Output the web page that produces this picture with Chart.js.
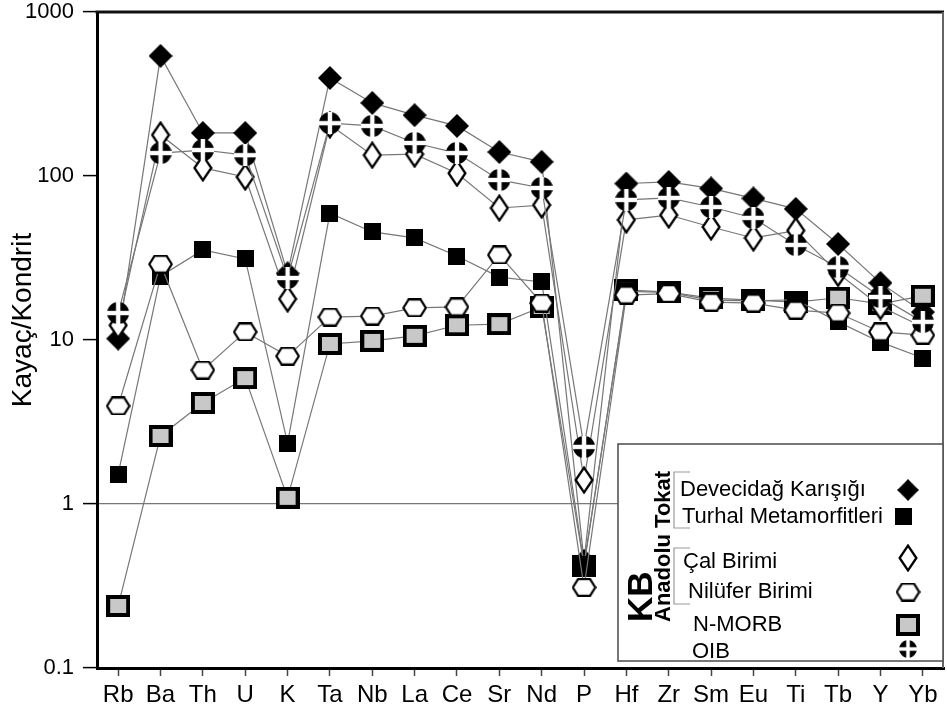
<!DOCTYPE html>
<html>
<head>
<meta charset="utf-8">
<title>Kayaç/Kondrit örümcek diyagramı</title>
<script src="https://cdn.jsdelivr.net/npm/chart.js@4.4.1/dist/chart.umd.min.js"></script>
<style>
  html, body { margin: 0; padding: 0; background: #fff; }
  canvas { display: block; }
</style>
</head>
<body>
<canvas id="spider" width="947" height="715"></canvas>
<script>
// Elements along the x axis
const elements = ['Rb','Ba','Th','U','K','Ta','Nb','La','Ce','Sr','Nd','P','Hf','Zr','Sm','Eu','Ti','Tb','Y','Yb'];

// Chondrite-normalised values per unit
const devecidag = [10.2, 540, 183, 183, 25.5, 396, 279, 235, 202, 140, 122, 0.45, 90, 92, 84, 73, 63, 38.5, 22.3, 14.8];
const turhal    = [1.52, 24.5, 35.4, 31.2, 2.35, 59.4, 45.6, 41.9, 32.5, 24.2, 22.6, 0.43, 19.8, 19.5, 17.5, 17.3, 17.6, 12.9, 9.7, 7.76];
const cal       = [12.3, 178, 112, 98.6, 17.8, 205, 134, 136, 104, 63.8, 66.5, 1.40, 54, 57.8, 48.9, 41.9, 46.5, 25.5, 16, 12];
const nilufer   = [3.96, 29, 6.56, 11.2, 7.98, 13.8, 14, 15.7, 15.9, 33, 16.8, 0.31, 18.8, 19.2, 17, 16.8, 15.2, 14.6, 11.2, 10.7];
const nmorb     = [0.239, 2.6, 4.13, 5.86, 1.09, 9.46, 9.87, 10.6, 12.3, 12.5, 15.9, 0.42, 20.2, 19.6, 18, 17.5, 17, 18.1, 16.6, 18.6];
const oib       = [14.6, 138, 144, 134, 23.9, 210, 202, 159, 138, 94.6, 84.5, 2.23, 71.5, 73.5, 64.7, 55.5, 38, 27.8, 18.3, 12.9];

const seriesNames = ['Devecidağ Karışığı', 'Turhal Metamorfitleri', 'Çal Birimi', 'Nilüfer Birimi', 'N-MORB', 'OIB'];
const yTickValues = [0.1, 1, 10, 100, 1000];
const yTickLabels = ['0.1', '1', '10', '100', '1000'];
const yTitle = 'Kayaç/Kondrit';
const groupTitleOuter = 'KB';
const groupTitleInner = 'Anadolu Tokat';

const FONT = '"Liberation Sans", Arial, Helvetica, sans-serif';

// ---- marker sprites ----
function sprite(w, h, paint) {
  const c = document.createElement('canvas');
  c.width = w; c.height = h;
  paint(c.getContext('2d'), w, h);
  return c;
}
const symDiamondSolid = sprite(24, 24, (g, w, h) => {
  g.fillStyle = '#000';
  g.beginPath();
  g.moveTo(w / 2, 0); g.lineTo(w, h / 2); g.lineTo(w / 2, h); g.lineTo(0, h / 2);
  g.closePath(); g.fill();
});
const symSquareSolid = sprite(17, 17, (g, w, h) => {
  g.fillStyle = '#000';
  g.fillRect(0, 0, w, h);
});
const symDiamondOpen = sprite(20, 28, (g, w, h) => {
  g.fillStyle = '#fff'; g.strokeStyle = '#000'; g.lineWidth = 2.3; g.lineJoin = 'miter';
  g.beginPath();
  g.moveTo(w / 2, 1.6); g.lineTo(w - 1.6, h / 2); g.lineTo(w / 2, h - 1.6); g.lineTo(1.6, h / 2);
  g.closePath(); g.fill(); g.stroke();
});
const symHexagon = sprite(25, 19, (g, w, h) => {
  g.fillStyle = '#fff'; g.strokeStyle = '#000'; g.lineWidth = 2.2;
  g.beginPath();
  g.moveTo(1.3, h / 2); g.lineTo(6.5, 1.2); g.lineTo(w - 6.5, 1.2);
  g.lineTo(w - 1.3, h / 2); g.lineTo(w - 6.5, h - 1.2); g.lineTo(6.5, h - 1.2);
  g.closePath(); g.fill(); g.stroke();
});
const symSquareGrey = sprite(24, 22, (g, w, h) => {
  g.fillStyle = '#000';
  g.fillRect(0, 0, w, h);
  g.fillStyle = '#c8c8c8';
  g.fillRect(4, 4, w - 8, h - 8);
});
const symCrossCircle = sprite(22, 22, (g, w, h) => {
  g.fillStyle = '#000';
  g.beginPath(); g.arc(w / 2, h / 2, w / 2, 0, Math.PI * 2); g.fill();
  g.fillStyle = '#fff';
  g.fillRect(0, h / 2 - 2.2, w, 4.4);
  g.fillRect(w / 2 - 2.2, 0, 4.4, h);
});
const symbols = [symDiamondSolid, symSquareSolid, symDiamondOpen, symHexagon, symSquareGrey, symCrossCircle];

// lower "order" is painted later, i.e. on top
const drawOrder = [5, 3, 2, 1, 4, 0];
const seriesValues = [devecidag, turhal, cal, nilufer, nmorb, oib];

const datasets = seriesNames.map((name, i) => ({
  label: name,
  data: seriesValues[i],
  pointStyle: symbols[i],
  pointRadius: 11,
  pointHoverRadius: 11,
  borderColor: '#777',
  backgroundColor: '#000',
  borderWidth: 1.2,
  fill: false,
  tension: 0,
  clip: false,
  order: drawOrder[i]
}));

// ---- frame, axis title and key ----
const decorations = {
  id: 'decorations',
  afterDraw(chart) {
    const g = chart.ctx;
    const a = chart.chartArea;
    g.save();

    // top and right edges of the plotting frame
    g.strokeStyle = '#111'; g.lineWidth = 3;
    g.beginPath(); g.moveTo(a.left - 1.5, a.top); g.lineTo(a.right, a.top); g.stroke();
    g.strokeStyle = '#666'; g.lineWidth = 2;
    g.beginPath(); g.moveTo(a.right - 1, a.top); g.lineTo(a.right - 1, a.bottom); g.stroke();

    // y axis title
    g.fillStyle = '#000';
    g.font = '28px ' + FONT;
    g.textAlign = 'center'; g.textBaseline = 'middle';
    g.translate(23, 320);
    g.rotate(-Math.PI / 2);
    g.fillText(yTitle, 0, 0);
    g.setTransform(1, 0, 0, 1, 0, 0);

    // key box
    const bx = 618, by = 444, bw = 325, bh = 217;
    g.fillStyle = '#fff';
    g.fillRect(bx, by, bw, bh);
    g.strokeStyle = '#555'; g.lineWidth = 1.6;
    g.strokeRect(bx, by, bw, bh);

    // rotated group titles
    g.fillStyle = '#000';
    g.textAlign = 'left'; g.textBaseline = 'alphabetic';
    g.save();
    g.translate(652, 622); g.rotate(-Math.PI / 2);
    g.font = 'bold 35px ' + FONT;
    g.fillText(groupTitleOuter, 0, 0);
    g.restore();
    g.save();
    g.translate(670, 622); g.rotate(-Math.PI / 2);
    g.font = 'bold 22px ' + FONT;
    g.fillText(groupTitleInner, 0, 0);
    g.restore();

    // brackets
    g.strokeStyle = '#999'; g.lineWidth = 1.2;
    [[472, 528], [548, 604]].forEach(([y0, y1]) => {
      g.beginPath();
      g.moveTo(690, y0); g.lineTo(674, y0); g.lineTo(674, y1); g.lineTo(690, y1);
      g.stroke();
    });

    // entries
    const textPos = [[680, 490], [682, 517], [683, 562], [688, 592], [693, 625], [692, 652]];
    const symPos = [[908, 490], [903, 516], [908, 558], [908, 592], [908, 625], [908, 649]];
    g.font = '22px ' + FONT;
    g.textBaseline = 'middle';
    seriesNames.forEach((name, i) => {
      g.fillStyle = '#000';
      g.fillText(name, textPos[i][0], textPos[i][1]);
      const s = symbols[i];
      const k = (i === 5) ? 0.8 : (i === 0 ? 0.9 : 1);
      const w = s.width * k, h = s.height * k;
      g.drawImage(s, symPos[i][0] - w / 2, symPos[i][1] - h / 2, w, h);
    });

    g.restore();
  }
};

new Chart(document.getElementById('spider'), {
  type: 'line',
  data: { labels: elements, datasets },
  options: {
    responsive: false,
    animation: false,
    events: [],
    layout: { autoPadding: false, padding: { left: 0, top: 12, right: 3, bottom: 0 } },
    plugins: {
      legend: { display: false },
      tooltip: { enabled: false },
      title: { display: false }
    },
    scales: {
      x: {
        offset: true,
        afterFit(scale) {
          scale.height = 47;
          scale.paddingLeft = 0; scale.paddingRight = 0;
        },
        border: { display: true, color: '#000', width: 3 },
        grid: {
          drawOnChartArea: false,
          drawTicks: true,
          tickLength: 8,
          tickColor: '#444',
          tickWidth: 1.5
        },
        ticks: {
          autoSkip: false,
          maxRotation: 0,
          padding: 5,
          color: '#000',
          font: { family: FONT, size: 24, lineHeight: 1.2 }
        }
      },
      y: {
        type: 'logarithmic',
        min: 0.1,
        max: 1000,
        afterFit(scale) {
          scale.width = 97;
          scale.paddingTop = 0; scale.paddingBottom = 0;
        },
        afterBuildTicks(scale) { scale.ticks = yTickValues.map(v => ({ value: v })); },
        border: { display: true, color: '#000', width: 3 },
        grid: {
          drawOnChartArea: true,
          drawTicks: true,
          tickLength: 14,
          tickColor: '#000',
          tickWidth: 1.5,
          lineWidth: 1.2,
          color: (ctx) => (ctx.tick && ctx.tick.value === 1) ? '#777' : 'rgba(0,0,0,0)'
        },
        ticks: {
          padding: 9,
          color: '#000',
          font: { family: FONT, size: 22, lineHeight: 1.0 },
          callback(value) {
            const idx = yTickValues.indexOf(value);
            return idx >= 0 ? yTickLabels[idx] : '';
          }
        }
      }
    }
  },
  plugins: [decorations]
});
</script>
</body>
</html>
